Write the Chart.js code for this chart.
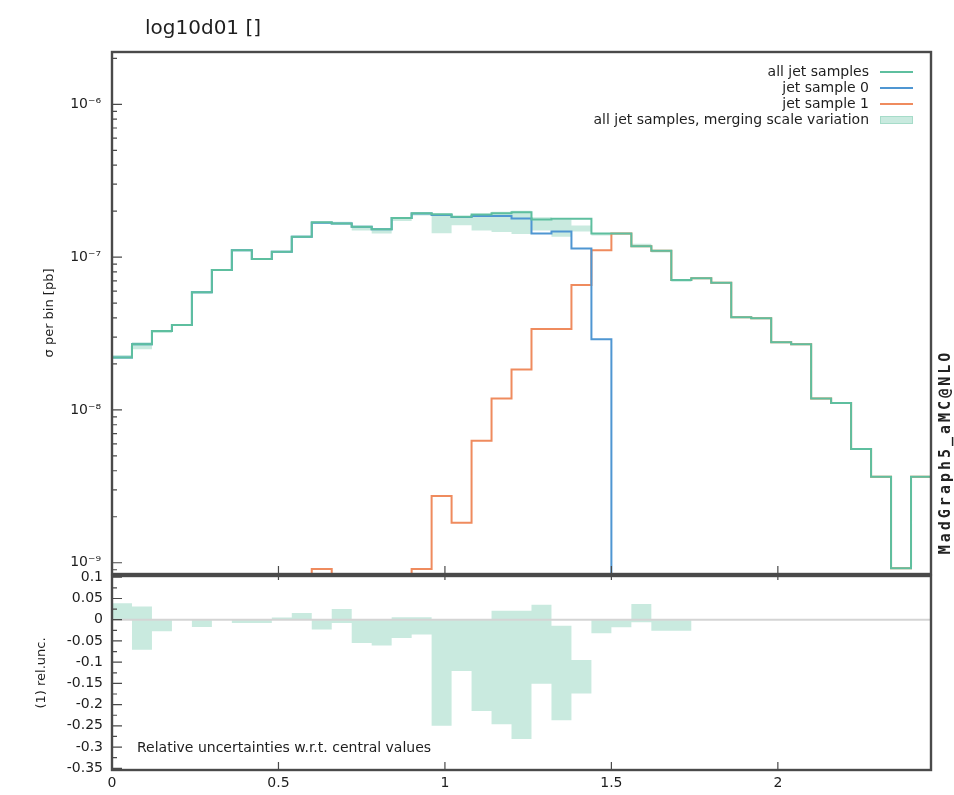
<!DOCTYPE html>
<html>
<head>
<meta charset="utf-8">
<title>log10d01</title>
<script src="https://cdn.jsdelivr.net/npm/chart.js@4.4.1/dist/chart.umd.min.js"></script>
<style>
  html, body { margin: 0; padding: 0; background: #fff; }
  #wrap { position: relative; width: 954px; height: 795px; overflow: hidden; }
  #wrap canvas { position: absolute; left: 0; top: 0; }
</style>
</head>
<body>
<div id="wrap">
  <canvas id="mainChart" width="954" height="795"></canvas>
  <canvas id="ratioChart" width="954" height="795"></canvas>
</div>
<script>
'use strict';

// bin edges (log10 d01)
let binEdges = [0, 0.06, 0.12, 0.18, 0.24, 0.3, 0.36, 0.42, 0.48, 0.54, 0.6,
  0.66, 0.72, 0.78, 0.84, 0.9, 0.96, 1.02, 1.08, 1.14, 1.2,
  1.26, 1.32, 1.38, 1.44, 1.5, 1.56, 1.62, 1.68, 1.74, 1.8,
  1.86, 1.92, 1.98, 2.04, 2.1, 2.16, 2.22, 2.28, 2.34, 2.4, 2.46];

// sigma per bin [pb]
let allJets = [2.20e-8, 2.69e-8, 3.28e-8, 3.60e-8, 5.88e-8, 8.24e-8, 1.11e-7, 9.72e-8, 1.085e-7, 1.36e-7,
  1.69e-7, 1.66e-7, 1.58e-7, 1.52e-7, 1.80e-7, 1.94e-7, 1.91e-7, 1.84e-7, 1.90e-7, 1.94e-7,
  1.97e-7, 1.76e-7, 1.78e-7, 1.78e-7, 1.43e-7, 1.43e-7, 1.18e-7, 1.10e-7, 7.08e-8, 7.27e-8,
  6.80e-8, 4.04e-8, 3.98e-8, 2.77e-8, 2.69e-8, 1.19e-8, 1.11e-8, 5.55e-9, 3.66e-9, 9.19e-10, 3.66e-9];

let jetSample0 = [2.20e-8, 2.69e-8, 3.28e-8, 3.60e-8, 5.88e-8, 8.24e-8, 1.11e-7, 9.72e-8, 1.085e-7, 1.36e-7,
  1.68e-7, 1.66e-7, 1.58e-7, 1.52e-7, 1.80e-7, 1.93e-7, 1.89e-7, 1.83e-7, 1.86e-7, 1.86e-7,
  1.79e-7, 1.43e-7, 1.47e-7, 1.14e-7, 2.90e-8, 0, 0, 0, 0, 0,
  0, 0, 0, 0, 0, 0, 0, 0, 0, 0, 0];

let jetSample1 = [0, 0, 0, 0, 0, 0, 0, 0, 0, 0,
  9.1e-10, 0, 0, 0, 0, 9.1e-10, 2.73e-9, 1.83e-9, 6.29e-9, 1.19e-8,
  1.84e-8, 3.38e-8, 3.38e-8, 6.57e-8, 1.11e-7, 1.43e-7, 1.18e-7, 1.10e-7, 7.08e-8, 7.27e-8,
  6.80e-8, 4.04e-8, 3.98e-8, 2.77e-8, 2.69e-8, 1.19e-8, 1.11e-8, 5.55e-9, 3.66e-9, 9.19e-10, 3.66e-9];

// merging scale variation, relative to central value
let relUp = [0.039, 0.031, 0, 0, 0, 0, 0, 0, 0.005, 0.016,
  0, 0.025, 0.002, 0, 0.006, 0.006, 0, 0, 0.002, 0.021,
  0.021, 0.035, -0.014, -0.095, 0, 0, 0.037, 0, 0, 0,
  0, 0, 0, 0, 0, 0, 0, 0, 0, 0, 0];
let relDown = [0, -0.071, -0.027, 0, -0.017, 0, -0.008, -0.008, 0, 0,
  -0.023, -0.008, -0.055, -0.061, -0.043, -0.035, -0.25, -0.121, -0.215, -0.246,
  -0.281, -0.151, -0.237, -0.174, -0.032, -0.018, -0.006, -0.026, -0.026, 0,
  0, 0, 0, 0, 0, 0, 0, 0, 0, 0, 0];

let seriesNames = ['all jet samples', 'jet sample 0', 'jet sample 1', 'all jet samples, merging scale variation'];
let xTicks = [0, 0.5, 1, 1.5, 2];
let logTicks = [1e-9, 1e-8, 1e-7, 1e-6];
let ratioTicks = [0.1, 0.05, 0, -0.05, -0.1, -0.15, -0.2, -0.25, -0.3, -0.35];

const yMin = 8.44e-10;
const yMax = 2.2e-6;
const greenCol = '#5ebf9f';
const blueCol = '#4f96d2';
const orangeCol = '#ef8b5e';
const bandCol = '#c9eadf';
const frameCol = '#4a4a4a';
const textCol = '#1e1e1e';

Chart.defaults.font.family = '"DejaVu Sans", sans-serif';
Chart.defaults.font.size = 14;
Chart.defaults.color = textCol;

function toSteps(values) {
  let pts = values.map((v, i) => ({x: binEdges[i], y: v}));
  pts.push({x: binEdges[binEdges.length - 1], y: values[values.length - 1]});
  return pts;
}

// empty bins cannot sit on a log axis: push them below the frame
function logSafe(values) {
  return values.map(v => v > 0 ? v : yMin / 100);
}

let bandHigh = allJets.map((v, i) => v * (1 + relUp[i]));
let bandLow = allJets.map((v, i) => v * (1 + relDown[i]));

const supMap = {'-': '\u207B', '0': '\u2070', '1': '\u00B9', '2': '\u00B2', '3': '\u00B3',
  '4': '\u2074', '5': '\u2075', '6': '\u2076', '7': '\u2077', '8': '\u2078', '9': '\u2079'};
function powLabel(v) {
  let e = String(Math.round(Math.log10(v)));
  return '10' + e.split('').map(c => supMap[c]).join('');
}

function stepLine(label, data, color) {
  return {
    label: label, data: data, borderColor: color, borderWidth: 2,
    stepped: true, pointRadius: 0, fill: false, borderJoinStyle: 'miter'
  };
}

function bandLine(data, fill) {
  return {
    data: data, borderColor: 'rgba(0,0,0,0)', borderWidth: 0, backgroundColor: bandCol,
    stepped: true, pointRadius: 0, fill: fill
  };
}

function tickMarks(ctx, a, scales, yMajor, yMinor, topTicks) {
  ctx.beginPath();
  yMajor.forEach(v => {
    let y = scales.y.getPixelForValue(v);
    ctx.moveTo(a.left, y); ctx.lineTo(a.left + 10, y);
  });
  yMinor.forEach(v => {
    let y = scales.y.getPixelForValue(v);
    ctx.moveTo(a.left, y); ctx.lineTo(a.left + 5, y);
  });
  xTicks.forEach(v => {
    if (v === 0) return;
    let x = scales.x.getPixelForValue(v);
    ctx.moveTo(x, a.bottom); ctx.lineTo(x, a.bottom - 8);
    if (topTicks) { ctx.moveTo(x, a.top); ctx.lineTo(x, a.top + 4); }
  });
  ctx.stroke();
}

let mainDecor = {
  id: 'mainDecor',
  afterDraw(chart) {
    const {ctx, chartArea: a, scales} = chart;
    ctx.save();
    // minor log ticks
    let minors = [];
    for (let d = 1e-10; d < yMax; d *= 10) {
      for (let m = 2; m <= 9; m++) {
        let v = m * d;
        if (v > yMin && v < yMax) minors.push(v);
      }
    }
    ctx.strokeStyle = frameCol;
    ctx.lineWidth = 1.2;
    tickMarks(ctx, a, scales, logTicks, minors, false);
    ctx.lineWidth = 2.4;
    ctx.strokeRect(a.left, a.top, a.right - a.left, a.bottom - a.top);

    // title
    ctx.fillStyle = textCol;
    ctx.font = '20px "DejaVu Sans"';
    ctx.textAlign = 'left';
    ctx.textBaseline = 'alphabetic';
    ctx.fillText('log10d01 []', 145, 34);

    // legend
    let colors = [greenCol, blueCol, orangeCol];
    ctx.font = '14px "DejaVu Sans"';
    ctx.textAlign = 'right';
    ctx.textBaseline = 'middle';
    seriesNames.forEach((name, i) => {
      let y = 72 + i * 16;
      ctx.fillStyle = textCol;
      ctx.fillText(name, 869, y);
      if (i < 3) {
        ctx.strokeStyle = colors[i];
        ctx.lineWidth = 2;
        ctx.beginPath();
        ctx.moveTo(880, y); ctx.lineTo(913, y);
        ctx.stroke();
      } else {
        ctx.fillStyle = bandCol;
        ctx.fillRect(880, y - 4, 33, 8);
        ctx.strokeStyle = '#a6dcc9';
        ctx.lineWidth = 1;
        ctx.strokeRect(880.5, y - 3.5, 32, 7);
      }
    });

    // generator tag
    ctx.translate(946, 452);
    ctx.rotate(-Math.PI / 2);
    ctx.font = 'bold 15px "DejaVu Sans Mono"';
    ctx.letterSpacing = '3px';
    ctx.textAlign = 'center';
    ctx.fillStyle = '#222';
    ctx.fillText('MadGraph5_aMC@NLO', 0, 0);
    ctx.restore();
  }
};

let ratioDecor = {
  id: 'ratioDecor',
  afterDatasetsDraw(chart) {
    const {ctx, chartArea: a, scales} = chart;
    let y0 = scales.y.getPixelForValue(0);
    ctx.save();
    ctx.strokeStyle = '#d4d4d4';
    ctx.lineWidth = 2;
    ctx.beginPath();
    ctx.moveTo(a.left, y0); ctx.lineTo(a.right, y0);
    ctx.stroke();
    ctx.restore();
  },
  afterDraw(chart) {
    const {ctx, chartArea: a, scales} = chart;
    ctx.save();
    let minors = ratioTicks.slice(1).map(v => v + 0.025);
    ctx.strokeStyle = frameCol;
    ctx.lineWidth = 1.2;
    tickMarks(ctx, a, scales, ratioTicks, minors, true);
    ctx.lineWidth = 2.4;
    ctx.strokeRect(a.left, a.top, a.right - a.left, a.bottom - a.top);

    ctx.fillStyle = textCol;
    ctx.font = '14px "DejaVu Sans"';
    ctx.textAlign = 'left';
    ctx.textBaseline = 'middle';
    ctx.fillText('Relative uncertainties w.r.t. central values', 137, 748);
    ctx.restore();
  }
};

function keepTicks(list) {
  return scale => { scale.ticks = list.map(v => ({value: v})); };
}

let mainChart = new Chart(document.getElementById('mainChart').getContext('2d'), {
  type: 'line',
  data: {
    datasets: [
      stepLine(seriesNames[0], toSteps(allJets), greenCol),
      stepLine(seriesNames[1], toSteps(logSafe(jetSample0)), blueCol),
      stepLine(seriesNames[2], toSteps(logSafe(jetSample1)), orangeCol),
      bandLine(toSteps(bandHigh), false),
      bandLine(toSteps(bandLow), '-1')
    ]
  },
  options: {
    responsive: false,
    animation: false,
    events: [],
    layout: {padding: {left: 0, top: 52, right: 23, bottom: 221}},
    plugins: {legend: {display: false}, tooltip: {enabled: false}, title: {display: false}},
    scales: {
      x: {type: 'linear', min: 0, max: 2.46, display: false},
      y: {
        type: 'logarithmic', min: yMin, max: yMax, position: 'left',
        grid: {display: false, drawTicks: false},
        border: {display: false},
        afterBuildTicks: keepTicks(logTicks),
        afterFit: scale => { scale.width = 112; },
        ticks: {padding: 11, autoSkip: false, callback: v => powLabel(v)},
        title: {display: true, text: '\u03C3 per bin [pb]', font: {size: 13}, padding: {top: 42}}
      }
    }
  },
  plugins: [mainDecor]
});

let ratioChart = new Chart(document.getElementById('ratioChart').getContext('2d'), {
  type: 'line',
  data: {
    datasets: [
      bandLine(toSteps(relUp), false),
      bandLine(toSteps(relDown), '-1')
    ]
  },
  options: {
    responsive: false,
    animation: false,
    events: [],
    layout: {padding: {left: 0, top: 576, right: 23, bottom: 0}},
    plugins: {legend: {display: false}, tooltip: {enabled: false}, title: {display: false}},
    scales: {
      x: {
        type: 'linear', min: 0, max: 2.46, position: 'bottom',
        grid: {display: false, drawTicks: false},
        border: {display: false},
        afterBuildTicks: keepTicks(xTicks),
        afterFit: scale => { scale.height = 25; },
        ticks: {padding: 5, autoSkip: false, maxRotation: 0, callback: v => String(v)}
      },
      y: {
        type: 'linear', min: -0.354, max: 0.103, position: 'left',
        grid: {display: false, drawTicks: false},
        border: {display: false},
        afterBuildTicks: keepTicks(ratioTicks),
        afterFit: scale => { scale.width = 112; },
        ticks: {padding: 9, autoSkip: false, callback: v => String(+v.toFixed(2))},
        title: {display: true, text: '(1) rel.unc.', font: {size: 13}, padding: {top: 34}}
      }
    }
  },
  plugins: [ratioDecor]
});
</script>
</body>
</html>
